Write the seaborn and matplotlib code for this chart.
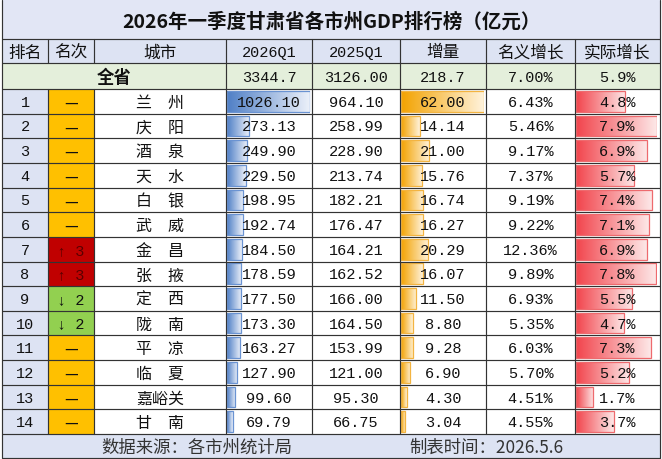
import numpy as np
import pandas as pd
import matplotlib
matplotlib.use('Agg')
import matplotlib.pyplot as plt
import seaborn as sns
from matplotlib.patches import Rectangle
from matplotlib.colors import to_rgb

# ---------------- data ----------------
title = '2026年一季度甘肃省各市州GDP排行榜（亿元）'
headers = ['排名', '名次', '城市', '2026Q1', '2025Q1', '增量', '名义增长', '实际增长']
ranks = list(range(1, 15))
rank_change = ['—', '—', '—', '—', '—', '—', '↑ 3', '↑ 3', '↓ 2', '↓ 2', '—', '—', '—', '—']
cities = ['兰　州', '庆　阳', '酒　泉', '天　水', '白　银', '武　威', '金　昌',
          '张　掖', '定　西', '陇　南', '平　凉', '临　夏', '嘉峪关', '甘　南']
gdp_2026 = [1026.10, 273.13, 249.90, 229.50, 198.95, 192.74, 184.50,
            178.59, 177.50, 173.30, 163.27, 127.90, 99.60, 69.79]
gdp_2025 = [964.10, 258.99, 228.90, 213.74, 182.21, 176.47, 164.21,
            162.52, 166.00, 164.50, 153.99, 121.00, 95.30, 66.75]
increase = [62.00, 14.14, 21.00, 15.76, 16.74, 16.27, 20.29,
            16.07, 11.50, 8.80, 9.28, 6.90, 4.30, 3.04]
nominal_growth = [6.43, 5.46, 9.17, 7.37, 9.19, 9.22, 12.36,
                  9.89, 6.93, 5.35, 6.03, 5.70, 4.51, 4.55]
real_growth = [4.8, 7.9, 6.9, 5.7, 7.4, 7.1, 6.9, 7.8, 5.5, 4.7, 7.3, 5.2, 1.7, 3.7]
province_label = '全省'
province_vals = ['3344.7', '3126.00', '218.7', '7.00%', '5.9%']
footer_left = '数据来源：各市州统计局'
footer_right = '制表时间：2026.5.6'

df = pd.DataFrame({'city': cities, 'gdp26': gdp_2026, 'inc': increase, 'real': real_growth})

# ---------------- layout (pixels) ----------------
W, H = 662, 459
xs = [2, 48, 94, 226, 312, 400, 486, 575, 660]
y_title = (0, 39)
y_head = (39, 63)
y_tot = (63, 89)
y_rows0, y_rows1 = 89, 434
rh = (y_rows1 - y_rows0) / 14
y_foot = (434, 458)
LINE = '#333333'

sns.set_theme(style='white')
plt.rcParams['font.family'] = ['Noto Sans CJK SC', 'DejaVu Sans']
NUMF = ['Liberation Mono', 'Noto Sans CJK SC', 'DejaVu Sans']

fig = plt.figure(figsize=(W / 100, H / 100), dpi=100)
fig.patch.set_facecolor('white')

def add_px_axes(x0, y0, x1, y1, z):
    a = fig.add_axes([x0 / W, 1 - y1 / H, (x1 - x0) / W, (y1 - y0) / H])
    a.set_zorder(z)
    a.patch.set_alpha(0)
    a.axis('off')
    return a

bg = add_px_axes(0, 0, W, H, 0)
bg.set_xlim(0, W); bg.set_ylim(H, 0)
top = add_px_axes(0, 0, W, H, 5)
top.set_xlim(0, W); top.set_ylim(H, 0)

def rect(x0, y0, x1, y1, c):
    bg.add_patch(Rectangle((x0, y0), x1 - x0, y1 - y0, facecolor=c, edgecolor='none', zorder=0))

LAV = '#DDE3F3'
rect(xs[0], y_title[0], xs[-1], y_title[1], '#E2E6F5')
rect(xs[0], y_head[0], xs[-1], y_head[1], LAV)
rect(xs[0], y_tot[0], xs[-1], y_tot[1], '#E4EFDB')
rect(xs[0], y_foot[0], xs[-1], y_foot[1], LAV)
chg_colors = {'—': '#FFC000', '↑ 3': '#C00000', '↓ 2': '#92D050'}
for i in range(14):
    ya, yb = y_rows0 + i * rh, y_rows0 + (i + 1) * rh
    rect(xs[0], ya, xs[1], yb, LAV)
    rect(xs[1], ya, xs[2], yb, chg_colors[rank_change[i]])
    rect(xs[2], ya, xs[-1], yb, 'white')

# ---------------- grid lines ----------------
lw = 0.85
for y in [y_title[1], y_head[1], y_tot[1]] + [y_rows0 + i * rh for i in range(1, 15)] + [y_foot[1]]:
    top.plot([xs[0], xs[-1]], [y, y], color=LINE, lw=lw, zorder=3, solid_capstyle='butt')
for x in [xs[0], xs[-1]]:
    top.plot([x, x], [0, y_foot[1]], color=LINE, lw=lw, zorder=3)
for x in xs[1:-1]:
    top.plot([x, x], [y_head[0], y_head[1]], color=LINE, lw=lw, zorder=3)
    top.plot([x, x], [y_rows0, y_rows1], color=LINE, lw=lw, zorder=3)
for x in xs[3:-1]:
    top.plot([x, x], [y_tot[0], y_tot[1]], color=LINE, lw=lw, zorder=3)

# ---------------- data bars via seaborn ----------------
def gradient_bars(col, x0, x1, vmax, c_left, c_right, c_edge):
    ax = add_px_axes(x0, y_rows0, x1, y_rows1, 2)
    sns.barplot(data=df, x=col, y='city', order=cities, orient='h', ax=ax,
                width=0.84, color=c_left)
    ax.axis('off')
    l, r = np.array(to_rgb(c_left)), np.array(to_rgb(c_right))
    t = np.linspace(0, 1, 256)[None, :, None]
    grad = l[None, None, :] * (1 - t) + r[None, None, :] * t
    for p in list(ax.patches):
        bx, by, bw, bh = p.get_x(), p.get_y(), p.get_width(), p.get_height()
        im = ax.imshow(grad, extent=[bx, bx + bw, by + bh, by], aspect='auto',
                       interpolation='bilinear', zorder=1)
        im.set_clip_path(p)
        p.set_facecolor('none')
        p.set_edgecolor(c_edge)
        p.set_linewidth(0.9)
        p.set_zorder(2)
    ax.set_xlim(0, vmax)
    ax.set_ylim(13.5, -0.5)

gradient_bars('gdp26', 227, 310, max(gdp_2026), '#4F7FC6', '#EEF2FA', '#6A93D2')
gradient_bars('inc', 401, 484, max(increase), '#F3A200', '#FFF3DC', '#F3B441')
gradient_bars('real', 576, 657, max(real_growth), '#F2444C', '#FDE8E8', '#EE6A6E')

# ---------------- text ----------------
cx = [(xs[i] + xs[i + 1]) / 2 for i in range(len(xs) - 1)]
TXT = '#111111'

def txt(x, y, s, size=11, fam=None, **kw):
    kw.setdefault('color', TXT)
    top.text(x, y, s, ha='center', va='center_baseline', fontsize=size,
             family=fam if fam else ['Noto Sans CJK SC', 'DejaVu Sans'], zorder=6, **kw)

txt(331, (y_title[0] + y_title[1]) / 2 + 1, title, size=14, fontweight='bold')
yh = (y_head[0] + y_head[1]) / 2
for i, h in enumerate(headers):
    txt(cx[i], yh, h, size=12 if i not in (3, 4) else 11, fam=None if i not in (3, 4) else NUMF)

yt = (y_tot[0] + y_tot[1]) / 2
txt((xs[0] + xs[3]) / 2, yt, province_label, size=12.5, fontweight='bold')
for j, v in enumerate(province_vals):
    txt(cx[3 + j], yt, v, size=11, fam=NUMF)

for i in range(14):
    y = y_rows0 + (i + 0.5) * rh
    txt(cx[0], y, str(ranks[i]), size=11, fam=NUMF)
    chg_col = '#5a0000' if rank_change[i].startswith('↑') else TXT
    txt(cx[1], y, rank_change[i], size=11, fam=NUMF if rank_change[i] != '—' else None, color=chg_col)
    txt(cx[2], y, cities[i], size=11.5)
    txt(cx[3], y, f'{gdp_2026[i]:.2f}', size=11, fam=NUMF)
    txt(cx[4], y, f'{gdp_2025[i]:.2f}', size=11, fam=NUMF)
    txt(cx[5], y, f'{increase[i]:.2f}', size=11, fam=NUMF)
    txt(cx[6], y, f'{nominal_growth[i]:.2f}%', size=11, fam=NUMF)
    txt(cx[7], y, f'{real_growth[i]:.1f}%', size=11, fam=NUMF)

yf = (y_foot[0] + y_foot[1]) / 2
txt(197, yf, footer_left, size=12.5, color='#333333')
txt(486, yf, footer_right, size=12.5, color='#333333',
    fam=['Noto Sans CJK SC', 'DejaVu Sans'])

fig.savefig('out.png', dpi=100, facecolor='white')
